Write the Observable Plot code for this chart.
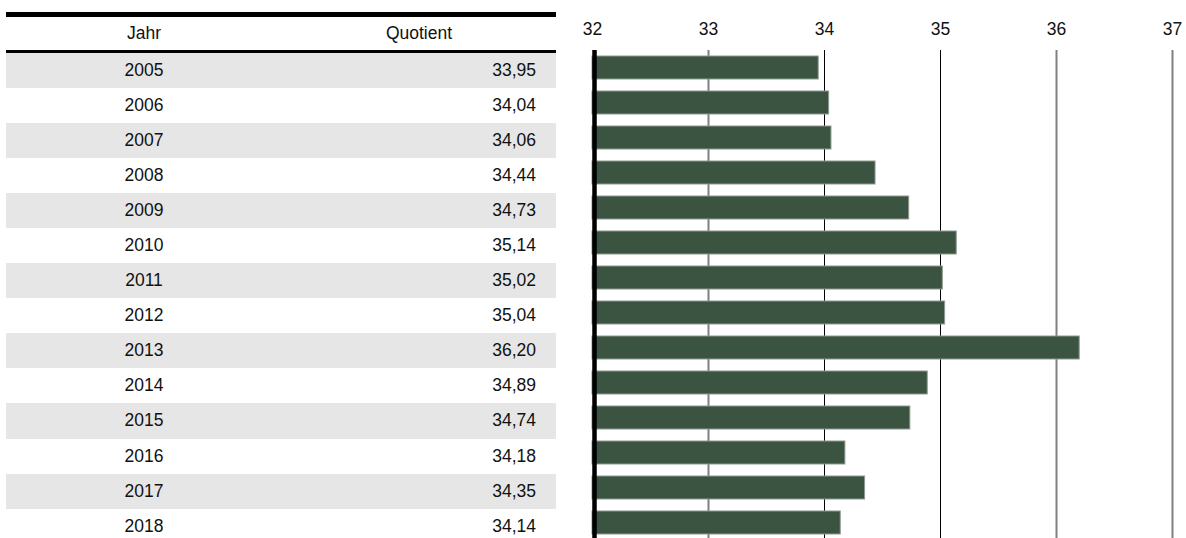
<!DOCTYPE html>
<html>
<head>
<meta charset="utf-8">
<script src="https://cdn.jsdelivr.net/npm/d3@7"></script>
<script src="https://cdn.jsdelivr.net/npm/@observablehq/plot@0.6"></script>
<style>
  html, body { margin: 0; padding: 0; overflow: hidden; background: #fff; }
  #wrap { position: relative; width: 1186px; height: 538px; overflow: hidden; font-family: "Liberation Sans", Arial, sans-serif; color: #111; }
  #table { position: absolute; left: 6px; top: 12px; width: 550px; font-size: 17.5px; }
  #table .hdr { border-top: 5px solid #000; border-bottom: 3px solid #000; height: 33px; display: flex; align-items: center; }
  #table .row { height: 35.05px; display: flex; align-items: center; }
  #table .row.alt { background: #e6e6e6; }
  #table .c1 { width: 276px; text-align: center; }
  #table .c2 { width: 274px; box-sizing: border-box; }
  #table .hdr .c2 { text-align: center; }
  #table .row .c2 { text-align: right; padding-right: 20px; }
  #chart { position: absolute; left: 0; top: 0; }
</style>
</head>
<body>
<div id="wrap">
  <div id="table"></div>
  <div id="chart"></div>
</div>
<script>
const headers = ["Jahr", "Quotient"];
const years = ["2005","2006","2007","2008","2009","2010","2011","2012","2013","2014","2015","2016","2017","2018"];
const values = [33.95, 34.04, 34.06, 34.44, 34.73, 35.14, 35.02, 35.04, 36.20, 34.89, 34.74, 34.18, 34.35, 34.14];
const ticks = [32, 33, 34, 35, 36, 37];

const data = years.map((y, i) => ({year: y, value: values[i]}));
const fmt = v => v.toFixed(2).replace(".", ",");

// table
const table = document.getElementById("table");
let html = `<div class="hdr"><div class="c1">${headers[0]}</div><div class="c2">${headers[1]}</div></div>`;
data.forEach((d, i) => {
  html += `<div class="row${i % 2 === 0 ? " alt" : ""}"><div class="c1">${d.year}</div><div class="c2">${fmt(d.value)}</div></div>`;
});
table.innerHTML = html;

// chart
const darkGrid = new Set([34, 35]);
const chart = Plot.plot({
  width: 1186,
  height: 541,
  marginLeft: 592,
  marginRight: 14,
  marginTop: 50,
  marginBottom: 0,
  style: {fontFamily: "Liberation Sans, Arial, sans-serif", fontSize: "17.5px", color: "#111", background: "transparent"},
  x: {domain: [32, 37], axis: null},
  y: {domain: years, paddingInner: 0.333, paddingOuter: 0.1665, axis: null},
  marks: [
    Plot.ruleX(ticks.slice(1).filter(t => !darkGrid.has(t)), {stroke: "#808080", strokeWidth: 2}),
    Plot.ruleX(ticks.filter(t => darkGrid.has(t)), {stroke: "#000", strokeWidth: 1}),
    Plot.barX(data, {x1: () => 32, x2: "value", y: "year", fill: "#3b5341", stroke: "#8f9a92", strokeWidth: 1}),
    Plot.ruleX([32], {stroke: "#000", strokeWidth: 4.5, dx: 2}),
    Plot.text(ticks, {x: d => d, text: d => String(d), frameAnchor: "top", dy: -21, lineAnchor: "middle", fill: "#111", fontSize: 17.5})
  ]
});
document.getElementById("chart").appendChild(chart);
</script>
</body>
</html>
